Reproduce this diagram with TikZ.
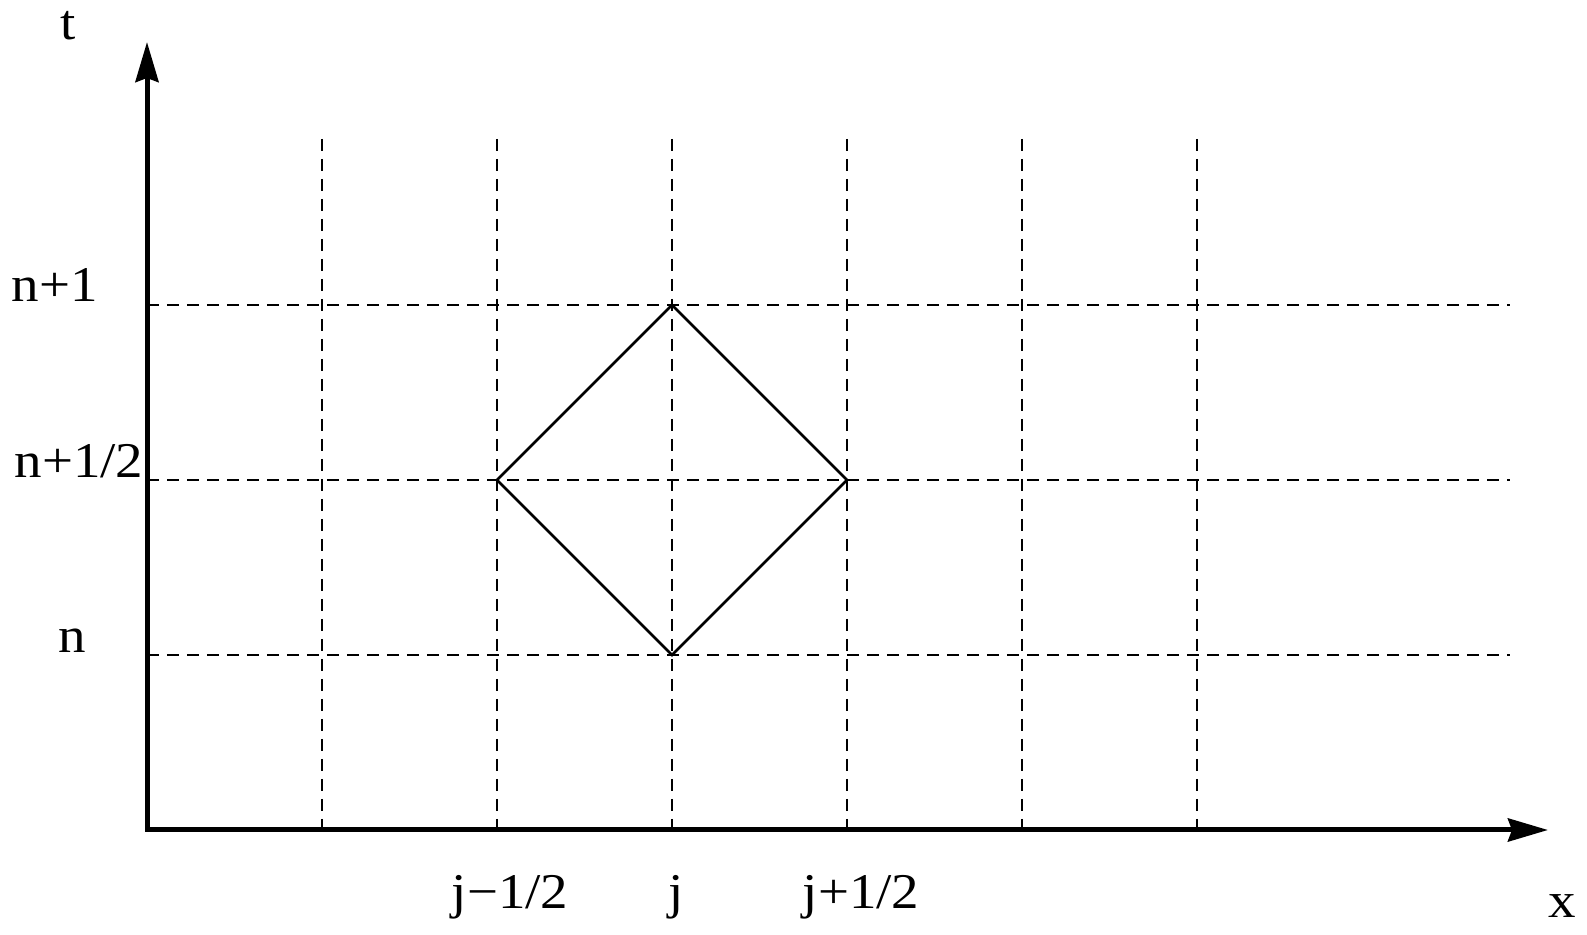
\documentclass[tikz,border=0pt]{standalone}
\usepackage{fontspec}
\setmainfont{Liberation Serif}
\usetikzlibrary{arrows.meta}
\begin{document}
\begin{tikzpicture}[x=0.5pt,y=-0.5pt,
  axisline/.style={line width=2.5pt,
    arrows={Stealth[length=20pt,width=11.5pt,inset=2pt]-Stealth[length=20pt,width=11.5pt,inset=2pt]}},
  gridline/.style={line width=0.7pt,dash pattern=on 6pt off 4pt},
  cell/.style={line width=1.3pt,line join=miter},
  lbl/.style={inner sep=0pt,anchor=base,font=\fontsize{25pt}{27pt}\selectfont,xscale=1.1}]
\useasboundingbox (0,0) rectangle (1587,935);
% axes
\coordinate (o) at (147,830);
\coordinate (ty) at (147,42);
\coordinate (tx) at (1548,830);
% grid lines
\foreach \i in {1,...,6} {
  \coordinate (vt\i) at (147+175*\i,139);
  \coordinate (vb\i) at (147+175*\i,830);
  \draw[gridline] (vt\i) -- (vb\i);
}
\foreach \k in {1,2,3} {
  \coordinate (hl\k) at (147,830-175*\k);
  \coordinate (hr\k) at (1510,830-175*\k);
  \draw[gridline] (hl\k) -- (hr\k);
}
\draw[axisline] (ty) -- (o) -- (tx);
% diamond
\coordinate (top) at (672,305);
\coordinate (rgt) at (847,480);
\coordinate (bot) at (672,655);
\coordinate (lft) at (497,480);
\draw[cell] (top) -- (rgt) -- (bot) -- (lft) -- cycle;
% labels
\node[lbl] (lt) at (68,40) {t};
\node[lbl] (lx) at (1562,917) {x};
\node[lbl] (ln1) at (55,302) {n+1};
\node[lbl] (lnh) at (79,478) {n+1/2};
\node[lbl] (ln) at (72,653) {n};
\node[lbl] (ljm) at (510,908) {j\textminus1/2};
\node[lbl] (lj) at (676,908) {j};
\node[lbl] (ljp) at (861,908) {j+1/2};
\end{tikzpicture}
\end{document}
